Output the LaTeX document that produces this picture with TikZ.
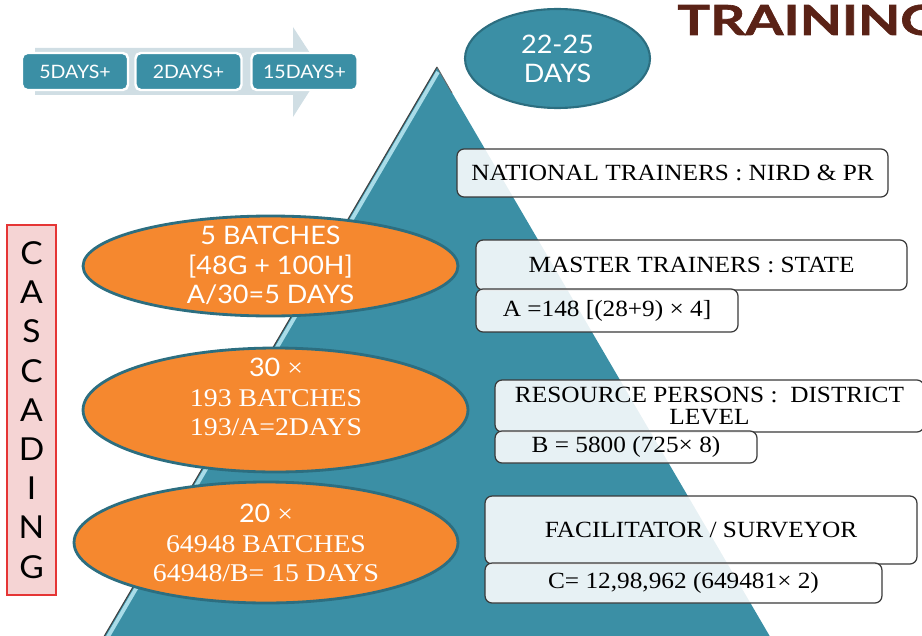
\documentclass[tikz,border=0pt]{standalone}
\usepackage{fontspec}
\setmainfont{Liberation Serif}[FakeStretch=1.09]
\newfontfamily\gill{Lato}[FakeStretch=1.06]
\newfontfamily\titlefont{Lato}[FakeStretch=1.32, FakeBold=1.6]
\usetikzlibrary{shapes.geometric}
\definecolor{teal1}{HTML}{3B8FA5}
\definecolor{tealline}{HTML}{2C6E80}
\definecolor{orange1}{HTML}{F5882F}
\definecolor{arrowc}{HTML}{D0DEE4}
\definecolor{stripe}{HTML}{A9DCE8}
\definecolor{boxline}{HTML}{3A3A3A}
\definecolor{brown1}{HTML}{5A2216}
\definecolor{pink1}{HTML}{F5D4D4}
\definecolor{redline}{HTML}{E53535}
\tikzset{
  daybox/.style={draw=white, fill=teal1, line width=1.4pt, rounded corners=3pt, text=white,
    font=\gill\fontsize{10.5}{12}\selectfont, minimum width=2.12cm, minimum height=0.74cm, inner sep=0pt},
  oell/.style={ellipse, draw=tealline, line width=1.6pt, fill=orange1, inner sep=0pt},
  otext/.style={text=white, align=center},
  osans/.style={font=\gill\fontsize{14.5}{16.8}\selectfont},
  oserif/.style={font=\fontsize{14.5}{16.8}\selectfont},
  rbox/.style={draw=boxline, fill=white, fill opacity=0.88, text opacity=1, rounded corners=4pt,
    line width=0.7pt, inner sep=0pt, align=center, text=black, font=\fontsize{13.2}{12.5}\selectfont},
}
\begin{document}
\begin{tikzpicture}[x=0.02cm,y=-0.02cm]
\useasboundingbox (0,0) rectangle (922,635);
\clip (0,0) rectangle (922,635);
% title
\node[anchor=base west, inner sep=0pt, text=brown1, font=\titlefont\bfseries\fontsize{23.6}{28}\selectfont] (title) at (677,35) {TRAINING};
% pyramid
\fill[teal1] (437,67) -- (102,640) -- (772,640) -- cycle;
\draw[stripe, line width=2.2pt] (438,72) -- (106,640);
\draw[black!75, line width=0.6pt] (437,67) -- (102,640);
\draw[black!60, line width=0.5pt] (437,67) -- (452,93);
% arrow
\fill[arrowc] (35,48) -- (293,48) -- (293,27) -- (322,71.5) -- (293,117) -- (293,95) -- (35,95) -- cycle;
\node[daybox] (d1) at (75,71.5) {5DAYS+};
\node[daybox] (d2) at (188.5,71.5) {2DAYS+};
\node[daybox] (d3) at (304.5,71.5) {15DAYS+};
% days ellipse
\node[ellipse, draw=tealline, line width=1.2pt, fill=teal1, minimum width=3.7cm, minimum height=1.98cm, inner sep=0pt,
  text=white, align=center, font=\gill\fontsize{14.5}{16.5}\selectfont] (days) at (557.5,58.5) {22-25\\DAYS};
% cascading
\node[draw=redline, fill=pink1, line width=0.8pt, minimum width=0.98cm, minimum height=7.4cm, inner sep=0pt,
  align=center, font=\gill\fontsize{18}{22.3}\selectfont] (casc) at (31.5,410) {C\\A\\S\\C\\A\\D\\I\\N\\G};
% orange ellipses
\node[oell, minimum width=7.5cm, minimum height=2cm] (e1) at (270.5,266) {};
\node[otext, osans] (e1t) at (270.5,265.5) {5 BATCHES\\{[48G + 100H]}\\A/30=5 DAYS};
\node[oell, minimum width=7.7cm, minimum height=2.48cm] (e2) at (275.5,410) {};
\node[otext, oserif] (e2t) at (276,397) {{\gill 30 }×\\193 BATCHES\\193/A=2DAYS};
\node[oell, minimum width=7.68cm, minimum height=2.42cm] (e3) at (266,542.5) {};
\node[otext, oserif] (e3t) at (266,543) {{\gill 20 }×\\64948 BATCHES\\64948/B= 15 DAYS};
% right boxes
\node[rbox, minimum width=8.62cm, minimum height=0.96cm] (nat) at (672.5,173) {NATIONAL TRAINERS : NIRD \& PR};
\node[rbox, minimum width=8.62cm, minimum height=1.0cm] (mast) at (691.5,265) {MASTER TRAINERS : STATE};
\node[rbox, minimum width=5.24cm, minimum height=0.86cm] (a) at (607,310.5) {A =148 [(28+9) × 4]};
\node[rbox, minimum width=8.58cm, minimum height=1.04cm] (res) at (709.5,406) {RESOURCE PERSONS :\ \ DISTRICT\\LEVEL};
\node[rbox, minimum width=5.24cm, minimum height=0.64cm] (b) at (626,447) {B = 5800 (725× 8)};
\node[rbox, minimum width=8.64cm, minimum height=1.36cm] (fac) at (701,530) {FACILITATOR / SURVEYOR};
\node[rbox, minimum width=7.94cm, minimum height=0.8cm] (c) at (683.5,583) {C= 12,98,962 (649481× 2)};
\end{tikzpicture}
\end{document}
